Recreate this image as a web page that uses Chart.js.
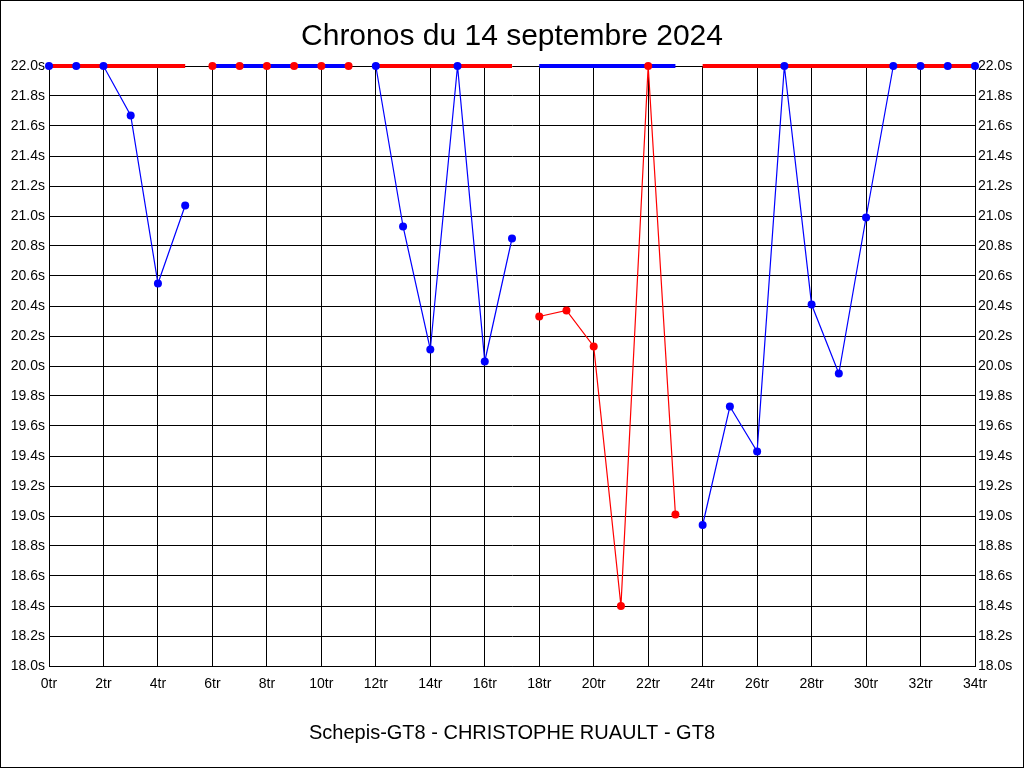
<!DOCTYPE html>
<html>
<head>
<meta charset="utf-8">
<script src="https://cdn.jsdelivr.net/npm/chart.js@4/dist/chart.umd.min.js"></script>
<style>
  html, body { margin: 0; padding: 0; background: #fff; }
  #wrap { width: 1024px; height: 768px; position: relative; }
</style>
</head>
<body>
<div id="wrap"><canvas id="c" width="1024" height="768"></canvas></div>
<script>
// ---- Data ----
const titleText = 'Chronos du 14 septembre 2024';
const footerText = 'Schepis-GT8 - CHRISTOPHE RUAULT - GT8';
const laps = [0,1,2,3,4,5,6,7,8,9,10,11,12,13,14,15,16,17,18,19,20,21,22,23,24,25,26,27,28,29,30,31,32,33,34];
const lapTimes = [22.0,22.0,22.0,21.67,20.55,21.07,
                  22.0,22.0,22.0,22.0,22.0,22.0,
                  22.0,20.93,20.11,22.0,20.03,20.85,
                  20.33,20.37,20.13,18.40,22.0,19.01,
                  18.94,19.73,19.43,22.0,20.41,19.95,20.99,22.0,22.0,22.0,22.0];
const stintStart = [0, 6, 12, 18, 24];
const stintEnd   = [5, 11, 17, 23, 34];
const stintColor = ['#0000ff', '#ff0000', '#0000ff', '#ff0000', '#0000ff'];
const stintBarColor = ['#ff0000', '#0000ff', '#ff0000', '#0000ff', '#ff0000'];
const yMin = 18.0, yMax = 22.0, yStep = 0.2;
const xMin = 0, xMax = 34, xStep = 2;

// ---- Datasets ----
const datasets = [];
stintStart.forEach((s, i) => {
  const pts = [];
  for (let k = 0; k < laps.length; k++) {
    if (laps[k] >= s && laps[k] <= stintEnd[i]) pts.push({x: laps[k], y: lapTimes[k]});
  }
  // thin line
  datasets.push({
    data: pts, borderColor: stintColor[i], borderWidth: 1.2, pointRadius: 0,
    tension: 0, clip: false, order: 3
  });
  // stint bar at top
  datasets.push({
    data: [{x: s, y: yMax}, {x: stintEnd[i], y: yMax}],
    borderColor: stintBarColor[i], borderWidth: 4, pointRadius: 0,
    borderCapStyle: 'butt', clip: false, order: 2
  });
  // points
  datasets.push({
    data: pts, showLine: false, pointRadius: 4, pointBorderWidth: 0,
    pointBackgroundColor: stintColor[i], pointBorderColor: stintColor[i],
    clip: false, order: 1
  });
});

const frame = {
  id: 'frame',
  beforeDraw(chart) {
    const ctx = chart.ctx;
    ctx.save();
    ctx.fillStyle = '#fff';
    ctx.fillRect(0, 0, chart.width, chart.height);
    ctx.restore();
  },
  afterDraw(chart) {
    const ctx = chart.ctx;
    ctx.save();
    ctx.strokeStyle = '#000';
    ctx.lineWidth = 1;
    ctx.strokeRect(0.5, 0.5, chart.width - 1, chart.height - 1);
    ctx.restore();
  }
};

const font = "'Liberation Sans', Arial, sans-serif";
const yTicks = {
  stepSize: yStep, color: '#000', font: {family: font, size: 14},
  callback: v => v.toFixed(1) + 's'
};

new Chart(document.getElementById('c'), {
  type: 'line',
  data: { datasets },
  plugins: [frame],
  options: {
    responsive: false, animation: false, devicePixelRatio: 1,
    layout: { padding: 0 },
    plugins: {
      legend: { display: false }, tooltip: { enabled: false },
      title: { display: true, text: titleText, color: '#000',
               font: {family: font, size: 30, weight: 'normal'},
               padding: {top: 19, bottom: 11} },
      subtitle: { display: true, text: footerText, position: 'bottom', color: '#000',
                  font: {family: font, size: 20, weight: 'normal'},
                  padding: {top: 7, bottom: 23} }
    },
    scales: {
      x: {
        type: 'linear', min: xMin, max: xMax,
        ticks: { stepSize: xStep, color: '#000', font: {family: font, size: 14},
                 padding: 10, maxRotation: 0, autoSkip: false,
                 callback: v => v + 'tr' },
        grid: { color: '#000', lineWidth: 1, drawTicks: false },
        border: { color: '#000', width: 1 },
        afterFit: s => { s.height = 48; }
      },
      y: {
        position: 'left', min: yMin, max: yMax,
        ticks: Object.assign({padding: 4}, yTicks),
        grid: { color: '#000', lineWidth: 1, drawTicks: false },
        border: { color: '#000', width: 1 },
        afterFit: s => { s.width = 49; }
      },
      y2: {
        position: 'right', min: yMin, max: yMax,
        ticks: Object.assign({padding: 3}, yTicks),
        grid: { display: false, drawTicks: false },
        border: { color: '#000', width: 1 },
        afterFit: s => { s.width = 49; }
      }
    }
  }
});
</script>
</body>
</html>
